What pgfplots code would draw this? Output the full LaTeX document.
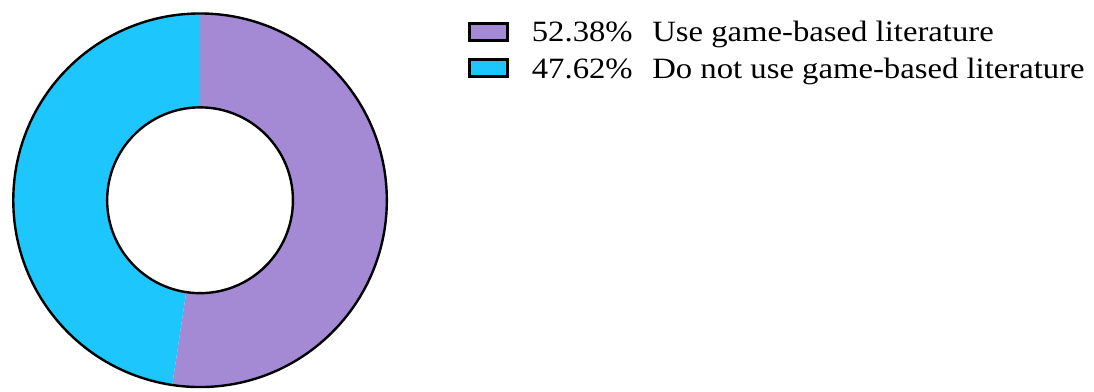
\documentclass[border=0pt]{standalone}
\usepackage{pgfplots}
\pgfplotsset{compat=1.18}
\usepackage{pgfplotstable}
\usepackage{graphicx}
\usepackage{fontspec}
\setmainfont{Liberation Serif}
\definecolor{purp}{HTML}{A48AD4}
\definecolor{cyanc}{HTML}{1EC6FE}
\pgfplotstableread{
label value
Use 52.38
NotUse 47.62
}\piedata
\pgfplotstablegetelem{0}{value}\of\piedata
\let\vA\pgfplotsretval
\pgfplotstablegetelem{1}{value}\of\piedata
\let\vB\pgfplotsretval
\pgfmathsetmacro{\aStart}{90}
\pgfmathsetmacro{\aMid}{90-3.6*\vA}
\pgfmathsetmacro{\aEnd}{\aMid-3.6*\vB}
\newcommand{\legtext}[1]{\scalebox{1.11}[1.0]{\fontsize{29.5bp}{35bp}\selectfont #1}}
\begin{document}
\begin{tikzpicture}
\begin{axis}[
  width=1094bp, height=387bp, scale only axis,
  xmin=0, xmax=1094, ymin=0, ymax=387,
  hide axis, clip=false,
]
\addplot[draw=none, forget plot] coordinates {(0,0) (1094,387)};
\coordinate (C) at (axis cs:199,186.5);
% purple segment
\fill[purp] ([shift={(\aStart:187bp)}]C) arc[start angle=\aStart, end angle=\aMid, radius=187bp]
  -- ([shift={(\aMid:93bp)}]C) arc[start angle=\aMid, end angle=\aStart, radius=93bp] -- cycle;
% cyan segment
\fill[cyanc] ([shift={(\aMid:187bp)}]C) arc[start angle=\aMid, end angle=\aEnd, radius=187bp]
  -- ([shift={(\aEnd:93bp)}]C) arc[start angle=\aEnd, end angle=\aMid, radius=93bp] -- cycle;
\draw[black, line width=2.4bp] (C) circle[radius=187bp];
\draw[black, line width=2.4bp] (C) circle[radius=93bp];
% legend
\draw[fill=purp, line width=3bp] (axis cs:468.5,346.5) rectangle (axis cs:506.5,363.5);
\draw[fill=cyanc, line width=3bp] (axis cs:468.5,310.5) rectangle (axis cs:506.5,327.5);
\node[anchor=base west, inner sep=0pt] at (axis cs:531,345) {\legtext{52.38\%\hspace{0.6em}Use game-based literature}};
\node[anchor=base west, inner sep=0pt] at (axis cs:531,308.5) {\legtext{47.62\%\hspace{0.6em}Do not use game-based literature}};
\end{axis}
\end{tikzpicture}
\end{document}
